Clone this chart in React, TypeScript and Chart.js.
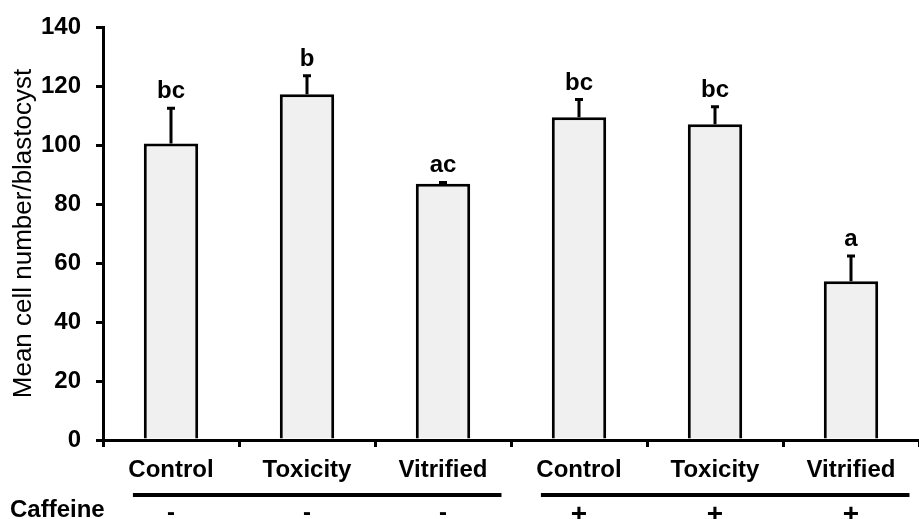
import React, { useEffect, useRef } from "react";
import { Chart, registerables } from "chart.js";

Chart.register(...registerables);

const categories = ["Control", "Toxicity", "Vitrified", "Control", "Toxicity", "Vitrified"];
const caffeineSigns = ["-", "-", "-", "+", "+", "+"];
const groups = [
  { from: 0, to: 2 },
  { from: 3, to: 5 },
];
const meanValues = [100.5, 117.2, 86.9, 109.4, 107.0, 53.8];
const errorValues = [12.0, 6.3, 0.4, 6.0, 6.0, 8.6];
const letters = ["bc", "b", "ac", "bc", "bc", "a"];
const yTicks = [0, 20, 40, 60, 80, 100, 120, 140];

const FONT = "'Liberation Sans', Arial, Helvetica, sans-serif";

const overlayPlugin = {
  id: "overlay",
  afterDatasetsDraw(chart: any) {
    const ctx = chart.ctx;
    const y = chart.scales.y;
    const meta = chart.getDatasetMeta(0);
    ctx.save();
    ctx.strokeStyle = "#000";
    ctx.lineWidth = 3;
    meta.data.forEach((bar: any, i: number) => {
      const top = y.getPixelForValue(meanValues[i]);
      const errTop = y.getPixelForValue(meanValues[i] + errorValues[i]);
      ctx.beginPath();
      ctx.moveTo(bar.x, top);
      ctx.lineTo(bar.x, errTop);
      ctx.moveTo(bar.x - 4, errTop);
      ctx.lineTo(bar.x + 4, errTop);
      ctx.stroke();
      ctx.fillStyle = "#000";
      ctx.font = "bold 24px " + FONT;
      ctx.textAlign = "center";
      ctx.textBaseline = "alphabetic";
      ctx.fillText(letters[i], bar.x, errTop - 10);
    });
    ctx.restore();
  },
  afterDraw(chart: any) {
    const ctx = chart.ctx;
    const x = chart.scales.x;
    const catW = (x.right - x.left) / categories.length;
    ctx.save();
    ctx.strokeStyle = "#000";
    ctx.lineWidth = 4;
    groups.forEach((g) => {
      const x0 = x.getPixelForValue(g.from) - 0.28 * catW;
      const x1 = x.getPixelForValue(g.to) + 0.43 * catW;
      ctx.beginPath();
      ctx.moveTo(x0, 495);
      ctx.lineTo(x1, 495);
      ctx.stroke();
    });
    ctx.fillStyle = "#000";
    ctx.font = "bold 24px " + FONT;
    ctx.textAlign = "left";
    ctx.textBaseline = "alphabetic";
    ctx.fillText("Caffeine", 10, 517);
    ctx.textAlign = "center";
    caffeineSigns.forEach((s, i) => {
      ctx.font = (s === "+" ? "bold 28px " : "bold 24px ") + FONT;
      ctx.fillText(s, x.getPixelForValue(i), s === "+" ? 523 : 520);
    });
    ctx.restore();
  },
};

export default function App() {
  const canvasRef = useRef<HTMLCanvasElement | null>(null);

  useEffect(() => {
    if (!canvasRef.current) return;
    const chart = new Chart(canvasRef.current, {
      type: "bar",
      data: {
        labels: categories,
        datasets: [
          {
            data: meanValues,
            backgroundColor: "#f0f0f0",
            borderColor: "#000",
            borderWidth: 3,
            borderSkipped: "bottom",
            barPercentage: 0.4,
            categoryPercentage: 1,
          },
        ],
      },
      options: {
        animation: false,
        responsive: false,
        maintainAspectRatio: false,
        layout: { padding: { top: 22, left: 0, right: 0, bottom: 0 } },
        plugins: {
          legend: { display: false },
          tooltip: { enabled: false },
        },
        scales: {
          x: {
            offset: true,
            grid: {
              display: true,
              offset: true,
              drawOnChartArea: false,
              drawTicks: true,
              tickLength: 7,
              color: "#000",
              lineWidth: 3,
            },
            border: { display: true, color: "#000", width: 3 },
            ticks: {
              color: "#000",
              font: { family: FONT, size: 24, weight: "bold" },
              padding: 9,
              maxRotation: 0,
              autoSkip: false,
            },
            afterFit(scale: any) {
              scale.height = 79;
            },
          },
          y: {
            min: 0,
            max: 140,
            afterBuildTicks(scale: any) {
              scale.ticks = yTicks.map((v) => ({ value: v }));
            },
            grid: {
              display: true,
              drawOnChartArea: false,
              drawTicks: true,
              tickLength: 7,
              color: "#000",
              lineWidth: 3,
            },
            border: { display: true, color: "#000", width: 3 },
            ticks: {
              color: "#000",
              font: { family: FONT, size: 24, weight: "bold", lineHeight: 1 },
              padding: 15,
            },
            title: {
              display: true,
              text: "Mean cell number/blastocyst",
              color: "#000",
              font: { family: FONT, size: 26, weight: "normal" },
              padding: { top: 8, bottom: 0 },
            },
            afterFit(scale: any) {
              scale.width = 103;
            },
          },
        },
      },
      plugins: [overlayPlugin],
    });
    return () => chart.destroy();
  }, []);

  return (
    <div style={{ position: "fixed", left: 0, top: 0, width: 919, height: 519, background: "#fff" }}>
      <canvas ref={canvasRef} width={919} height={519} style={{ width: 919, height: 519, display: "block" }} />
    </div>
  );
}
